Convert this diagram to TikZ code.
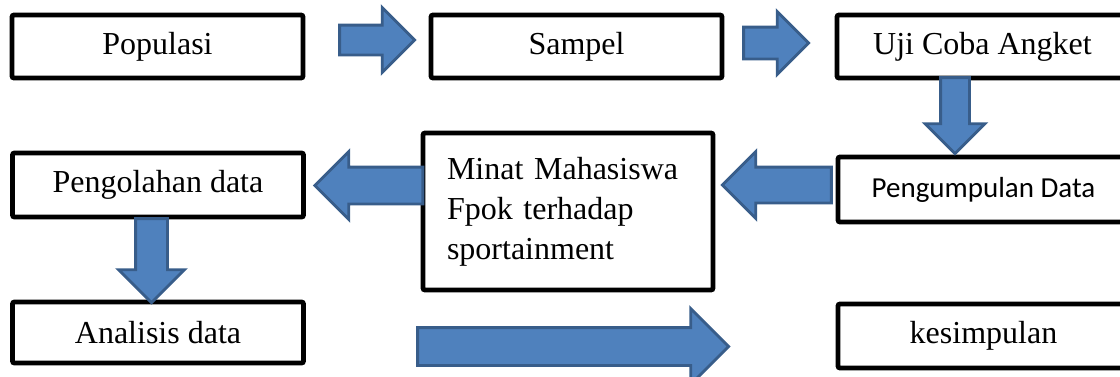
\documentclass[tikz,border=0pt]{standalone}
\usepackage{fontspec}
\setmainfont{Liberation Serif}
\newfontfamily\calibrifont{Carlito}
\usetikzlibrary{shapes.arrows}
\definecolor{arrowfill}{HTML}{4F81BD}
\definecolor{arrowline}{HTML}{385D8A}
\begin{document}
\begin{tikzpicture}[x=0.5pt,y=-0.5pt,
    box/.style={draw,line width=2.4pt,rounded corners=1pt,inner sep=0pt,
      minimum width=145.5pt,minimum height=31.5pt,
      font=\fontsize{16}{20}\selectfont},
    blockarrow/.style={single arrow,draw=arrowline,fill=arrowfill,
      line width=1.4pt,inner xsep=0pt,anchor=tip}]
  \useasboundingbox (0,0) rectangle (1120,376);
  \clip (0,0) rectangle (1120,376);
  % boxes
  \node[box] (pop) at (157.5,46.5) {Populasi};
  \node[box] (smp) at (576.5,46.5) {Sampel};
  \node[box] (uji) at (982.5,46.5) {Uji Coba Angket};
  \node[box,minimum height=32.5pt,font=\calibrifont\fontsize{14.5}{17}\selectfont]
    (kumpul) at (983.5,189.5) {Pengumpulan Data};
  \node[box,minimum width=145pt,minimum height=78.5pt,text width=121pt,
    inner xsep=12pt,align=left] (minat) at (568,211.5)
    {Minat Mahasiswa\\Fpok terhadap\\sportainment};
  \node[box,minimum height=32pt] (olah) at (158,185) {Pengolahan data};
  \node[box,minimum height=30.5pt] (anal) at (158,332.5) {Analisis data};
  \node[box,minimum height=32pt] (simpul) at (983.5,336) {kesimpulan};
  % arrows
  \node[blockarrow,minimum height=37.5pt,inner ysep=6.75pt,single arrow head extend=8.75pt]
    (a1) at ([shift={(-12,-6.5)}]smp.west) {};
  \node[blockarrow,minimum height=32.5pt,inner ysep=7.25pt,single arrow head extend=7.75pt]
    (a2) at ([shift={(-24,-3.5)}]uji.west) {};
  \node[blockarrow,rotate=-90,minimum height=38pt,inner ysep=6.5pt,single arrow head extend=7.75pt]
    (a3) at ([shift={(-28.5,1)}]kumpul.north) {};
  \node[blockarrow,rotate=180,minimum height=54.5pt,inner ysep=8.25pt,single arrow head extend=7.75pt]
    (a4) at ([shift={(5,-26.5)}]minat.east) {};
  \node[blockarrow,rotate=180,minimum height=54pt,inner ysep=8.5pt,single arrow head extend=7.75pt]
    (a5) at ([shift={(7,0.5)}]olah.east) {};
  \node[blockarrow,rotate=-90,minimum height=42pt,inner ysep=7.25pt,single arrow head extend=8.5pt]
    (a6) at ([shift={(-6.5,5)}]anal.north) {};
  \node[blockarrow,minimum height=155.5pt,inner ysep=8.75pt,single arrow head extend=9.5pt]
    (a7) at ([shift={(-105,10.5)}]simpul.west) {};
\end{tikzpicture}
\end{document}
